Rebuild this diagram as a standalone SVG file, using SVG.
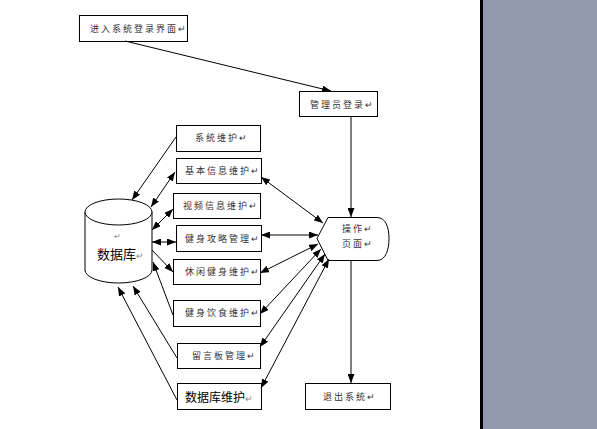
<svg xmlns="http://www.w3.org/2000/svg" width="597" height="429" viewBox="0 0 597 429">
<defs>
<marker id="arr" markerUnits="userSpaceOnUse" markerWidth="9" markerHeight="7" refX="9" refY="3.5" orient="auto-start-reverse">
<path d="M0,0 L9,3.5 L0,7 z" fill="#000"/>
</marker>
</defs>
<style>
.box{fill:#fff;stroke:#000;stroke-width:1}
.t{font-family:"Noto Sans CJK SC","Noto Sans",sans-serif;font-size:9px;letter-spacing:2px;fill:#333}
.tb{font-family:"Noto Sans CJK SC","Noto Sans",sans-serif;font-size:13px;fill:#000}
.m{font-size:9px;fill:#888}
.c line{stroke:#000;stroke-width:1;fill:none}
.e{marker-end:url(#arr)}
.b{marker-start:url(#arr);marker-end:url(#arr)}
</style>
<rect x="0" y="0" width="597" height="429" fill="#fff"/>
<rect x="483" y="0" width="114" height="429" fill="#9199ae"/>
<rect x="480" y="0" width="3" height="429" fill="#000"/>

<g id="login-entry"><rect class="box" x="79.5" y="15.5" width="108" height="26"/><text class="t" x="90" y="32">进入系统登录界面↵</text></g>
<g id="admin-login"><rect class="box" x="299.5" y="91.5" width="78" height="25"/><text class="t" x="310" y="107.5">管理员登录↵</text></g>
<g id="sys-maint"><rect class="box" x="176.5" y="125.5" width="84" height="26"/><text class="t" x="195" y="141">系统维护↵</text></g>
<g id="basic-info"><rect class="box" x="176.5" y="158.5" width="85" height="25"/><text class="t" x="185" y="174">基本信息维护↵</text></g>
<g id="video-info"><rect class="box" x="173.5" y="193.5" width="87" height="25"/><text class="t" x="183" y="209">视频信息维护↵</text></g>
<g id="fitness-guide"><rect class="box" x="176.5" y="225.5" width="85" height="26"/><text class="t" x="185" y="241.5">健身攻略管理↵</text></g>
<g id="leisure-fitness"><rect class="box" x="173.5" y="259.5" width="87" height="25"/><text class="t" x="185" y="275">休闲健身维护↵</text></g>
<g id="fitness-diet"><rect class="box" x="173.5" y="300.5" width="87" height="26"/><text class="t" x="185" y="316">健身饮食维护↵</text></g>
<g id="message-board"><rect class="box" x="177.5" y="343.5" width="83" height="25"/><text class="t" x="192" y="359">留言板管理↵</text></g>
<g id="db-maint"><rect class="box" x="177.5" y="383.5" width="84" height="26"/><text class="tb" x="185" y="401.5" style="font-size:12px">数据库维护<tspan class="m">↵</tspan></text></g>
<g id="exit"><rect class="box" x="305.5" y="383.5" width="85" height="26"/><text class="t" x="323" y="400">退出系统↵</text></g>
<g id="operation-page"><path class="box" d="M328,217.5 L377,217.5 C386,217.5 389,228 389,238.5 C389,249 386,260.5 377,260.5 L328,260.5 L317,238.5 Z"/><text class="t" x="342" y="232">操作↵</text><text class="t" x="342" y="246.5">页面↵</text></g>
<g id="database">
<path class="box" d="M85,212 L85,270 A33.5,13 0 0 0 152,270 L152,212"/>
<ellipse class="box" cx="118.5" cy="212" rx="33.5" ry="13"/>
<text class="t m" x="114" y="239" style="font-size:8px">↵</text>
<text class="tb" x="97" y="259">数据库<tspan class="m">↵</tspan></text>
</g>

<g class="c" id="connectors">
<line class="e" x1="125" y1="41" x2="331" y2="91"/>
<line class="e" x1="351" y1="116" x2="351" y2="217"/>
<line class="e" x1="351" y1="260" x2="351" y2="383"/>
<line class="e" x1="176" y1="137" x2="132" y2="200"/>
<line class="b" x1="175" y1="172" x2="151" y2="207"/>
<line class="b" x1="173" y1="209" x2="152" y2="230"/>
<line class="b" x1="152" y1="242" x2="176" y2="242"/>
<line class="e" x1="152" y1="250" x2="173" y2="272"/>
<line class="e" x1="173" y1="315" x2="153" y2="262"/>
<line class="e" x1="177" y1="358" x2="133" y2="286"/>
<line class="e" x1="177" y1="400" x2="118" y2="287"/>
<line class="b" x1="261" y1="177" x2="323" y2="223"/>
<line class="b" x1="261" y1="235" x2="318" y2="235"/>
<line class="b" x1="260" y1="273" x2="318" y2="244"/>
<line class="b" x1="260" y1="314" x2="321" y2="249"/>
<line class="b" x1="260" y1="347" x2="325" y2="254"/>
<line class="b" x1="261" y1="388" x2="329" y2="259"/>
</g>
</svg>
